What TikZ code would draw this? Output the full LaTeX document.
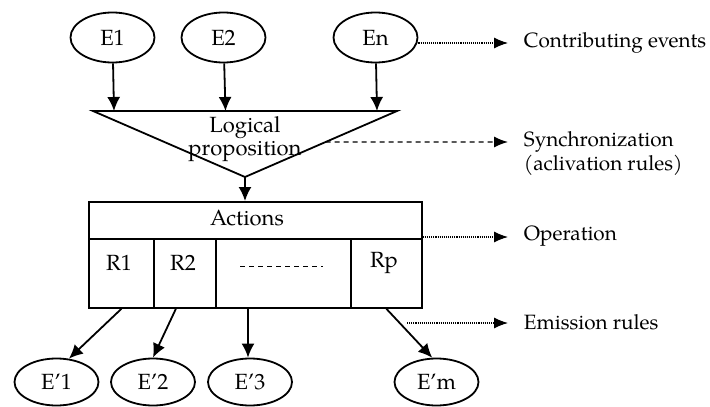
\documentclass[tikz,border=0pt]{standalone}
\usepackage{fontspec}
\setmainfont{TeX Gyre Pagella}
\usetikzlibrary{shapes.geometric,arrows.meta,calc}
\begin{document}
\begin{tikzpicture}[x=1pt,y=-1pt,line width=1.8pt,
  every node/.style={font=\fontsize{22}{24}\selectfont},
  ev/.style={draw,ellipse,minimum width=84pt,minimum height=50pt,inner sep=0pt},
  evb/.style={ev,minimum height=47pt},
  cell/.style={draw,rectangle,anchor=north west,inner sep=0pt},
  lbl/.style={anchor=west,inner sep=2pt,font=\fontsize{20.7}{24}\selectfont},
  arr/.style={-{Latex[length=14pt,width=13pt]}},
  noteline/.style={line width=1.1pt,densely dotted,-{Latex[length=14pt,width=11pt]}},
  notedash/.style={line width=1.3pt,dash pattern=on 5pt off 4pt,-{Latex[length=14pt,width=11pt]}}]
  \useasboundingbox[fill=white] (0,0) rectangle (710,407);

  % contributing events
  \node[ev] (e1) at (112.5,37.5) {E1};
  \node[ev] (e2) at (223.5,37.5) {E2};
  \node[ev] (en) at (375.5,37.5) {En};

  % logical proposition (inverted triangle)
  \coordinate (tl) at (93,111);
  \coordinate (tr) at (397,111);
  \coordinate (ta) at (245,177);
  \draw (tl) -- (tr) -- (ta) -- cycle;
  \node (lp1) at (245,128) {Logical};
  \node (lp2) at (245,152) {proposition};

  \draw[arr] (e1) -- ([xshift=1.5pt]e1 |- tl);
  \draw[arr] (e2) -- ([xshift=2pt]e2 |- tl);
  \draw[arr] (en) -- ([xshift=1.5pt]en |- tl);

  % operation block
  \node[cell,minimum width=333pt,minimum height=37pt] (act) at (88,201) {};
  \node (actt) at (247,218) {Actions};
  \node[cell,minimum width=65pt,minimum height=69pt] (r1) at (88,238) {};
  \node[cell,minimum width=62pt,minimum height=69pt] (r2) at (153,238) {};
  \node[cell,minimum width=135pt,minimum height=69pt] (rd) at (215,238) {};
  \node[cell,minimum width=71pt,minimum height=69pt] (rp) at (350,238) {};
  \node (r1t) at (119,263) {R1};
  \node (r2t) at (183,263) {R2};
  \node (rpt) at (384,263) {Rp};
  \draw[line width=1pt,dash pattern=on 5pt off 4pt] (240,266) -- (323,266);

  \draw[arr] (ta) -- (ta |- act.north);

  % emitted events
  \node[evb] (ep1) at (56.5,382) {E’1};
  \node[evb] (ep2) at (153,382) {E’2};
  \node[evb] (ep3) at (250,382) {E’3};
  \node[evb] (epm) at (436.5,382) {E’m};

  \draw[arr] (r1.south) -- (ep1.62);
  \draw[arr] ([xshift=-9pt]r2.south) -- (ep2.north);
  \draw[arr] ([xshift=-2pt]ep3.north |- rd.south) -- ([xshift=-2pt]ep3.north);
  \draw[arr] (rp.south) -- (epm.100);

  % annotations
  \node[lbl] (lce) at (521,43) {Contributing events};
  \node[lbl] (lsy) at (521,142) {Synchronization};
  \node[lbl] (lsy2) at (521,165) {(aclivation rules)};
  \node[lbl] (lop) at (521,236) {Operation};
  \node[lbl] (lem) at (521,322) {Emission rules};
  \coordinate (emstart) at (407,323);

  \draw[noteline] (en.east |- lce) -- ([xshift=-13pt]lce.west);
  \draw[notedash] ($(tr)!0.47!(ta)$) -- ([xshift=-13pt]lsy.west);
  \draw[noteline] (act.south east |- 0,237) -- ([xshift=-13pt]lop.west |- 0,237);
  \draw[noteline] (emstart) -- ([xshift=-13pt]lem.west |- emstart);
\end{tikzpicture}
\end{document}
